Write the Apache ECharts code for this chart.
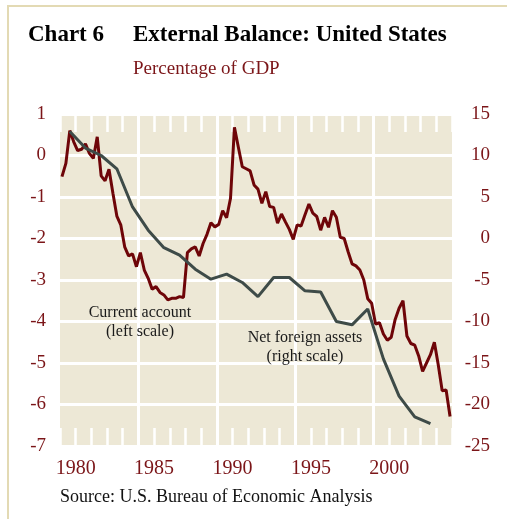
<!DOCTYPE html>
<html>
<head>
<meta charset="utf-8">
<script src="https://cdn.jsdelivr.net/npm/echarts@6/dist/echarts.min.js"></script>
<style>
  html, body { margin: 0; padding: 0; background: #fff; }
  #chart { width: 507px; height: 519px; }
</style>
</head>
<body>
<div id="chart"></div>
<script>
// quarterly current account, % of GDP (left scale), first quarter of startYear onwards
const startYear = 1979;
const currentAccount = [
  -0.51, -0.19, 0.60, 0.33, 0.12, 0.15, 0.28, 0.05, -0.07, 0.45,
  -0.49, -0.61, -0.33, -0.91, -1.46, -1.67, -2.20, -2.42, -2.37, -2.68,
  -2.34, -2.76, -2.96, -3.22, -3.16, -3.30, -3.36, -3.48, -3.44, -3.44,
  -3.40, -3.42, -2.34, -2.25, -2.20, -2.42, -2.12, -1.90, -1.62, -1.72,
  -1.66, -1.33, -1.50, -1.03, 0.68, 0.20, -0.27, -0.32, -0.37, -0.71,
  -0.81, -1.15, -0.87, -1.23, -1.25, -1.63, -1.41, -1.60, -1.78, -2.02,
  -1.67, -1.70, -1.43, -1.17, -1.39, -1.47, -1.80, -1.49, -1.73, -1.33,
  -1.49, -1.97, -2.00, -2.32, -2.61, -2.66, -2.76, -3.00, -3.45, -3.56,
  -4.06, -4.03, -4.30, -4.45, -4.38, -3.95, -3.68, -3.50, -4.35, -4.53,
  -4.57, -4.83, -5.20, -5.00, -4.80, -4.50, -5.05, -5.67, -5.65, -6.29
];
// annual net foreign assets, % of GDP (right scale), plotted at the third quarter
const netForeignAssets = [
  12.9, 10.9, 10.0, 8.4, 3.8, 1.0, -1.1, -2.0, -3.7, -4.9, -4.3, -5.3,
  -7.0, -4.7, -4.7, -6.3, -6.45, -10.0, -10.4, -8.5, -14.5, -19.0, -21.5, -22.3
];
const yearLabels = [1980, 1985, 1990, 1995, 2000];

const red = '#6e0508';
const labelRed = '#7b1518';
const serif = '"Liberation Serif", "Times New Roman", serif';

const caData = currentAccount.map((v, i) => [startYear + (i + 0.5) / 4, v]);
const nfaData = netForeignAssets.map((v, i) => [startYear + i + 0.625, v]);

const tickStyle = { color: '#fff', width: 2.5 };
const gridBox = { left: 60, right: 55, top: 114, bottom: 73 };
const plotRight = 507 - gridBox.right;

// x axis with white year ticks pointing into the plot (minor ticks = single years)
function yearAxis(position, withLabels) {
  return {
    type: 'value', min: 1979, max: 2004, interval: 5, position: position, z: 2,
    axisLine: { show: false, onZero: false },
    axisTick: { show: true, inside: true, length: 18, lineStyle: tickStyle },
    minorTick: { show: true, splitNumber: 5, length: 18, lineStyle: tickStyle },
    axisLabel: withLabels ? {
      customValues: yearLabels, color: labelRed, fontSize: 20, margin: 13,
      fontFamily: serif, formatter: v => String(v)
    } : { show: false },
    splitLine: withLabels ? { show: true, showMinLine: false, showMaxLine: false, lineStyle: { color: '#fff', width: 3 } } : { show: false }
  };
}

let chart = echarts.init(document.getElementById('chart'), null, { renderer: 'canvas' });
chart.setOption({
  animation: false,
  backgroundColor: '#fff',
  textStyle: { fontFamily: serif },
  grid: Object.assign({ show: false }, gridBox),
  xAxis: [yearAxis('bottom', true), yearAxis('top', false)],
  yAxis: [{
    type: 'value', min: -7, max: 1, interval: 1, position: 'left', z: 2,
    axisLine: { show: false, onZero: false }, axisTick: { show: false },
    axisLabel: { color: labelRed, fontSize: 19, margin: 14, fontFamily: serif },
    splitLine: { show: true, lineStyle: { color: '#fff', width: 3 } }
  }, {
    type: 'value', min: -25, max: 15, interval: 5, position: 'right', z: 2,
    axisLine: { show: false, onZero: false }, axisTick: { show: false },
    axisLabel: { color: labelRed, fontSize: 19, margin: 38, align: 'right', fontFamily: serif },
    splitLine: { show: false }
  }],
  series: [{
    name: 'Current account',
    type: 'line', xAxisIndex: 0, yAxisIndex: 0,
    data: caData, showSymbol: false, z: 3,
    lineStyle: { color: red, width: 3 }
  }, {
    name: 'Net foreign assets',
    type: 'line', xAxisIndex: 0, yAxisIndex: 1,
    data: nfaData, showSymbol: false, z: 4,
    lineStyle: { color: '#3e4b48', width: 3 }
  }],
  graphic: [
    // plot background, same box as the grid
    { type: 'rect', z: -10, silent: true,
      shape: { x: gridBox.left, y: gridBox.top, width: plotRight - gridBox.left, height: 519 - gridBox.top - gridBox.bottom },
      style: { fill: '#ede8d6' } },
    // frame
    { type: 'rect', z: -10, shape: { x: 8, y: 6, width: 600, height: 600 },
      style: { fill: 'none', stroke: '#e3dab4', lineWidth: 2 } },
    { type: 'text', left: 28, top: 24, z: 5,
      style: { text: 'Chart 6', font: 'bold 23px ' + serif, fill: '#000' } },
    { type: 'text', left: 133, top: 24, z: 5,
      style: { text: 'External Balance: United States', font: 'bold 23px ' + serif, fill: '#000' } },
    { type: 'text', left: 133, top: 60, z: 5,
      style: { text: 'Percentage of GDP', font: '19px ' + serif, fill: labelRed } },
    { type: 'text', left: 60, top: 488, z: 5,
      style: { text: 'Source: U.S. Bureau of Economic Analysis', font: '18px ' + serif, fill: '#111' } },
    { type: 'text', x: 140, y: 303, z: 5,
      style: { text: 'Current account\n(left scale)', font: '16px ' + serif, fill: '#1a1a1a',
        align: 'center', lineHeight: 19 } },
    { type: 'text', x: 305, y: 328, z: 5,
      style: { text: 'Net foreign assets\n(right scale)', font: '16px ' + serif, fill: '#1a1a1a',
        align: 'center', lineHeight: 19 } }
  ]
});
</script>
</body>
</html>
